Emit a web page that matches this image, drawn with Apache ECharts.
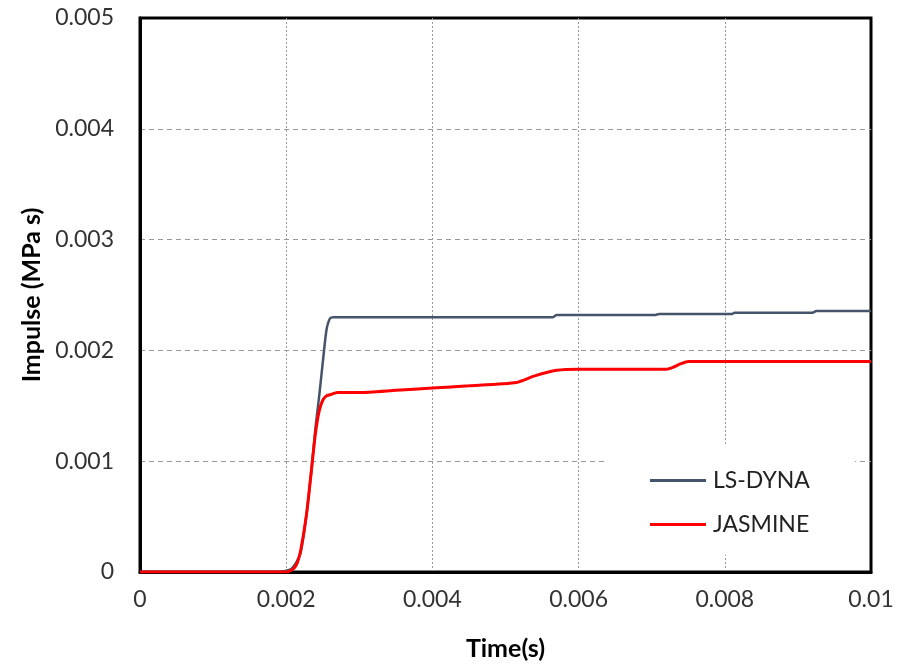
<!DOCTYPE html>
<html>
<head>
<meta charset="utf-8">
<script src="https://cdn.jsdelivr.net/npm/echarts@6/dist/echarts.min.js"></script>
<style>html,body{margin:0;padding:0;background:#fff}#c{width:900px;height:670px}</style>
</head>
<body>
<div id="c"></div>
<script>
const xTicks = [0, 0.002, 0.004, 0.006, 0.008, 0.01];
const yTicks = [0, 0.001, 0.002, 0.003, 0.004, 0.005];

const lsdynaT = [0, 0.0019, 0.00205, 0.0021, 0.00215, 0.0022, 0.00228, 0.00235, 0.0024, 0.00245, 0.0025, 0.00255, 0.0026, 0.00265, 0.003, 0.004, 0.005, 0.00565, 0.0057, 0.00705, 0.0071, 0.0081, 0.00813, 0.0092, 0.00925, 0.01];
const lsdynaV = [0, 0, 0.00002, 0.00005, 0.0001, 0.00018, 0.00053, 0.00095, 0.0013, 0.00158, 0.00189, 0.00218, 0.00229, 0.0023, 0.0023, 0.0023, 0.0023, 0.0023, 0.00232, 0.00232, 0.002328, 0.002328, 0.00234, 0.00234, 0.002355, 0.002355];

const jasmineT = [0, 0.002, 0.00205, 0.0021, 0.00215, 0.0022, 0.00228, 0.00235, 0.0024, 0.00245, 0.0025, 0.00255, 0.0026, 0.0027, 0.003, 0.0035, 0.004, 0.0045, 0.00515, 0.0054, 0.0057, 0.006, 0.0072, 0.0073, 0.0074, 0.0075, 0.01];
const jasmineV = [0, 0, 0.00001, 0.00003, 0.00008, 0.0002, 0.00053, 0.00095, 0.00125, 0.00145, 0.00155, 0.00159, 0.0016, 0.00162, 0.00162, 0.00164, 0.00166, 0.00168, 0.00171, 0.00177, 0.00182, 0.00183, 0.00183, 0.00185, 0.00188, 0.0019, 0.0019];

const zip = (a, b) => a.map((t, i) => [t, b[i]]);
const fmt = v => String(+v.toFixed(4));
const FONT = 'Lato';

const chart = echarts.init(document.getElementById('c'), null, {renderer: 'canvas'});
chart.setOption({
  animation: false,
  backgroundColor: '#fff',
  grid: {left: 140, right: 29, top: 18, bottom: 98, show: true, borderColor: '#000', borderWidth: 3},
  xAxis: {
    type: 'value', min: xTicks[0], max: xTicks[xTicks.length - 1], interval: 0.002,
    name: 'Time(s)', nameLocation: 'middle', nameGap: 64,
    nameTextStyle: {fontFamily: FONT, fontWeight: 'bold', fontSize: 25, color: '#000'},
    axisLine: {show: true, lineStyle: {color: '#000', width: 3}},
    axisTick: {show: false},
    axisLabel: {margin: 16, fontFamily: FONT, fontSize: 23, color: '#333', formatter: fmt},
    splitLine: {show: true, showMinLine: false, showMaxLine: false, lineStyle: {color: '#999', type: [2, 2], width: 1}}
  },
  yAxis: {
    type: 'value', min: yTicks[0], max: yTicks[yTicks.length - 1], interval: 0.001,
    name: 'Impulse (MPa s)', nameLocation: 'middle', nameGap: 94,
    nameTextStyle: {fontFamily: FONT, fontWeight: 'bold', fontSize: 25, color: '#000'},
    axisLine: {show: true, lineStyle: {color: '#000', width: 3}},
    axisTick: {show: false},
    axisLabel: {margin: 26, fontFamily: FONT, fontSize: 23, color: '#333', formatter: fmt},
    splitLine: {show: true, showMinLine: false, showMaxLine: false, lineStyle: {color: '#999', type: [5, 4], width: 1}}
  },
  legend: {
    orient: 'vertical', left: 608, top: 446,
    padding: [23, 45, 19, 42],
    backgroundColor: '#fff',
    itemGap: 21, itemWidth: 56, itemHeight: 3, icon: 'rect',
    textStyle: {fontFamily: FONT, fontSize: 23, color: '#222', padding: [0, 0, 0, 2]},
    data: ['LS-DYNA', 'JASMINE']
  },
  series: [
    {name: 'LS-DYNA', type: 'line', data: zip(lsdynaT, lsdynaV), showSymbol: false, symbol: 'none',
     smooth: 0.2, lineStyle: {color: '#44546A', width: 2.5}, itemStyle: {color: '#44546A'}},
    {name: 'JASMINE', type: 'line', data: zip(jasmineT, jasmineV), showSymbol: false, symbol: 'none',
     smooth: 0.2, lineStyle: {color: '#FF0000', width: 3}, itemStyle: {color: '#FF0000'}}
  ]
});
</script>
</body>
</html>
